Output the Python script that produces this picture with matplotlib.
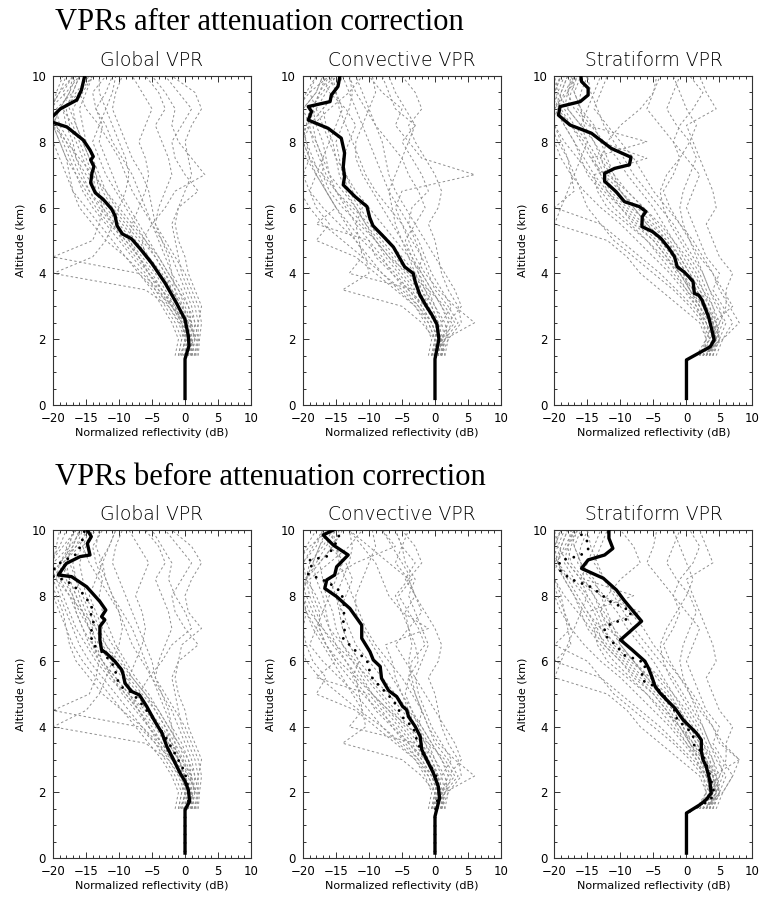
import numpy as np
import matplotlib
matplotlib.use('Agg')
import matplotlib.pyplot as plt
from matplotlib.ticker import MultipleLocator

# altitude levels (km) of the individual grey profiles
alt_levels = [1.5, 2.0, 2.5, 3.0, 3.5, 4.0, 4.5, 5.0, 5.5,
              6.0, 6.5, 7.0, 7.5, 8.0, 8.5, 9.0, 9.5, 10.0]

# ---- mean VPRs after attenuation correction (thick black, top row) ----
glob_alt = [0.2, 1.4, 1.8, 2.1, 2.6, 3.1, 3.7, 4.3, 4.75, 5.05, 5.2, 5.45, 5.75,
            5.95, 6.25, 6.45, 6.75, 7.05, 7.25, 7.45, 7.55, 7.75, 8.05, 8.45,
            8.62, 8.7, 8.78, 9.0, 9.27, 9.57, 10.0]
glob_val = [0.0, 0.0, 0.6, 0.5, 0.0, -1.3, -3.0, -5.0, -6.8, -8.1, -9.5, -10.3,
            -10.6, -11.1, -12.4, -13.6, -14.3, -14.1, -13.8, -14.3, -13.9, -14.4,
            -15.4, -17.9, -20.5, -21.0, -20.0, -18.9, -16.4, -15.7, -15.2]

conv_alt = [0.2, 1.4, 2.0, 2.45, 2.75, 3.0, 3.35, 3.75, 4.0, 4.2, 4.8, 5.12,
            5.45, 5.7, 6.03, 6.33, 6.69, 6.94, 7.24, 7.66, 8.11, 8.41, 8.66,
            8.92, 9.07, 9.22, 9.42, 9.68, 10.0]
conv_val = [0.0, 0.0, 0.6, 0.3, -0.5, -1.3, -2.3, -3.0, -3.3, -4.6, -6.3, -7.8,
            -9.4, -9.9, -10.3, -12.1, -13.9, -13.7, -13.9, -13.7, -14.2, -16.2,
            -19.2, -18.7, -19.2, -15.9, -15.7, -14.7, -14.4]

strat_alt = [0.2, 1.37, 1.77, 1.98, 2.28, 2.68, 3.19, 3.34, 3.39, 3.75, 3.9,
             4.05, 4.2, 4.5, 4.76, 5.07, 5.27, 5.42, 5.72, 5.88, 6.03, 6.18,
             6.48, 6.8, 7.04, 7.19, 7.3, 7.53, 7.8, 8.26, 8.51, 8.81, 9.07,
             9.22, 9.42, 9.63, 9.83, 10.0]
strat_val = [0.0, 0.0, 3.6, 4.2, 3.85, 3.35, 2.35, 1.85, 1.2, 1.0, 0.35, -0.4,
             -1.4, -1.8, -2.65, -3.9, -5.15, -6.75, -6.7, -6.15, -7.15, -9.4,
             -10.65, -12.4, -12.4, -10.9, -8.65, -8.4, -11.4, -14.4, -17.65,
             -19.4, -19.15, -16.1, -14.9, -14.9, -15.9, -16.0]

# ---- mean VPRs before attenuation correction (thick black, bottom row) ----
glob_b_alt = [0.15, 1.47, 1.73, 2.08, 2.34, 2.59, 3.0, 3.4, 3.81, 4.16, 4.62,
              4.97, 5.08, 5.33, 5.58, 5.74, 5.99, 6.24, 6.35, 6.65, 7.06, 7.26,
              7.36, 7.56, 7.82, 8.27, 8.58, 8.63, 8.98, 9.19, 9.24, 9.59, 9.8, 10.0]
glob_b_val = [0.0, 0.0, 0.7, 0.5, 0.0, -0.75, -1.75, -2.75, -3.5, -4.55, -5.8,
              -6.9, -8.1, -9.1, -9.35, -9.6, -10.6, -11.9, -12.65, -12.9, -12.9,
              -12.15, -12.65, -12.0, -12.9, -14.9, -17.2, -19.2, -18.0, -15.9,
              -14.4, -14.8, -14.2, -14.8]

conv_b_alt = [0.15, 1.27, 1.83, 2.18, 2.59, 3.0, 3.3, 3.71, 4.01, 4.31, 4.52,
              4.62, 4.92, 5.1, 5.48, 5.84, 6.04, 6.29, 6.7, 7.1, 7.61, 7.97,
              8.22, 8.48, 8.63, 8.88, 9.24, 9.54, 9.85, 10.02]
conv_b_val = [0.0, 0.0, 0.7, 0.5, -0.25, -1.25, -2.0, -2.25, -3.0, -4.0, -4.3,
              -4.9, -5.8, -7.0, -8.1, -8.3, -9.35, -9.85, -11.1, -11.1, -12.9,
              -14.9, -16.7, -16.4, -15.2, -14.9, -13.15, -15.4, -16.95, -15.2]

strat_b_alt = [0.15, 1.37, 1.62, 1.78, 1.98, 2.39, 2.79, 3.0, 3.25, 3.6, 3.81,
               4.01, 4.21, 4.57, 4.82, 5.03, 5.23, 5.53, 5.79, 6.0, 6.35, 6.65,
               7.22, 7.87, 8.17, 8.53, 8.83, 9.09, 9.24, 9.44, 9.75, 10.0]
strat_b_val = [0.0, 0.0, 2.0, 3.0, 3.75, 3.5, 3.0, 2.5, 2.25, 2.25, 1.5, 0.5,
               -0.5, -1.75, -3.0, -4.0, -4.75, -5.25, -5.75, -6.3, -8.25, -10.0,
               -6.8, -9.5, -10.6, -12.6, -15.9, -14.9, -12.4, -11.15, -11.75, -11.75]

# ---- individual profiles (grey dashed), one list per profile ----
glob_profiles = [
    [-1.0, -0.5, -1.5, -3.0, -4.5, -6.0, -8.0, -10.0, -12.0, -14.0, -15.5, -16.5, -17.5, -18.5, -19.5, -20.5, -19.0, -18.0],
    [1.5, 1.8, 0.5, -1.0, -2.5, -4.0, -6.0, -8.0, -10.0, -12.0, -13.5, -14.0, -15.0, -16.0, -17.0, -18.5, -16.0, -15.0],
    [0.5, 1.2, 1.5, 0.5, -1.0, -2.5, -4.0, -5.5, -7.0, -8.5, -10.0, -11.0, -12.0, -13.0, -12.5, -13.5, -14.0, -12.0],
    [2.0, 2.2, 2.5, 2.0, 1.0, 0.0, -1.5, -3.0, -4.5, -5.0, -5.5, -6.5, -8.0, -9.0, -10.0, -11.0, -10.5, -9.5],
    [-1.5, -1.0, -2.0, -3.5, -5.0, -7.0, -9.0, -11.0, -13.0, -15.0, -17.0, -18.0, -19.0, -20.0, -21.0, -20.0, -19.5, -18.5],
    [0.0, 0.5, 0.0, -1.5, -3.5, -5.5, -7.5, -9.5, -11.0, -12.5, -13.0, -13.5, -14.5, -15.5, -16.5, -17.0, -15.5, -14.0],
    [1.0, 1.5, 2.0, 2.5, 1.5, 0.5, 0.0, -1.0, -1.5, -1.0, 0.0, 1.0, 0.5, 0.0, 1.0, 2.5, 1.5, -2.0],
    [0.5, 0.8, -0.5, -2.0, -3.5, -5.5, -7.0, -8.5, -8.0, -7.0, -6.0, -5.5, -6.0, -7.0, -6.0, -5.0, -6.5, -8.0],
    [1.0, 1.0, 1.0, -0.5, -2.0, -4.0, -6.0, -6.5, -5.0, -3.0, -1.5, 3.0, 1.0, -1.0, -2.0, -1.5, -3.0, -5.0],
    [-0.5, 0.0, -1.0, -2.5, -6.0, -20.0, -14.0, -12.0, -11.0, -10.0, -9.0, -8.5, -9.0, -10.0, -11.0, -12.0, -13.0, -13.0],
    [0.0, 0.3, -0.5, -2.0, -4.0, -6.5, -9.0, -12.0, -14.0, -16.0, -17.0, -17.5, -18.0, -19.0, -20.0, -19.0, -17.5, -17.0],
    [1.5, 1.0, 0.0, -1.0, -2.0, -3.0, -4.5, -6.0, -7.5, -9.0, -10.5, -12.0, -13.0, -14.0, -13.0, -12.0, -11.0, -10.5],
    [-0.5, 0.0, -0.5, -1.5, -3.0, -4.5, -6.5, -8.5, -10.5, -12.5, -14.5, -16.0, -17.0, -18.0, -19.5, -20.5, -18.0, -16.0],
    [0.5, 1.0, 0.5, -0.5, -2.0, -3.5, -5.5, -7.5, -9.5, -11.5, -13.5, -15.0, -16.5, -17.5, -19.0, -19.5, -17.0, -16.0],
    [1.0, 1.5, 1.0, 0.0, -1.0, -2.5, -4.0, -6.0, -8.0, -10.0, -12.0, -14.0, -16.0, -18.0, -20.0, -20.5, -19.0, -17.0],
    [-1.0, -0.5, 0.0, -1.0, -2.5, -4.0, -5.5, -7.0, -9.0, -11.0, -12.5, -13.5, -14.5, -15.5, -16.5, -17.5, -18.5, -17.0],
    [0.0, 0.0, 1.0, 0.5, -0.5, -2.0, -3.0, -4.0, -5.0, -6.0, -7.0, -8.0, -9.5, -11.0, -12.0, -13.5, -12.0, -11.0],
    [1.8, 2.0, 1.5, 1.0, 0.0, -1.0, -2.0, -3.5, -5.0, -6.5, -8.0, -9.0, -10.0, -11.5, -13.0, -15.0, -16.0, -14.0],
    [-0.8, 0.2, -0.2, -1.8, -3.5, -5.0, -7.0, -9.0, -11.5, -13.5, -15.0, -16.5, -18.0, -19.0, -20.0, -19.0, -17.5, -16.5],
    [0.3, 0.8, 0.0, -1.0, -1.5, -2.0, -2.5, -3.5, -4.5, -4.0, -3.0, -2.0, -2.5, -3.5, -4.5, -3.0, -4.0, -6.0],
    [1.2, 0.5, -0.8, -2.5, -4.0, -5.5, -7.0, -9.0, -11.0, -13.0, -14.5, -15.5, -16.5, -17.0, -18.0, -18.5, -16.5, -14.5],
    [-0.3, 1.5, 0.8, -0.3, -1.5, -3.0, -4.5, -6.5, -8.5, -10.5, -12.0, -13.0, -14.0, -15.0, -15.5, -16.0, -15.0, -14.0],
    [0.8, 1.0, 0.0, -2.0, -4.5, -7.0, -20.0, -14.0, -13.0, -12.5, -13.5, -14.5, -15.5, -16.5, -17.5, -18.0, -17.0, -16.0],
    [1.5, 2.0, 2.0, 1.5, 0.5, -0.5, -1.0, -1.5, -2.0, -1.0, 2.0, 0.0, -1.5, -2.0, -0.5, 1.0, -1.0, -3.0],
]

conv_profiles = [
    [0.5, 1.0, 0.0, -1.5, -3.0, -5.0, -7.0, -9.0, -11.0, -13.0, -15.0, -16.5, -17.5, -18.5, -19.0, -20.0, -18.0, -17.0],
    [1.0, 1.5, 6.0, 3.0, 0.5, -1.5, -3.0, -4.0, -5.0, -6.0, -5.0, 6.0, -2.0, -4.0, -6.0, -5.0, -8.0, -10.0],
    [-0.5, 0.0, -2.0, -5.0, -14.0, -10.0, -10.5, -12.0, -13.5, -15.0, -16.5, -18.0, -19.0, -19.5, -20.0, -21.0, -19.0, -16.0],
    [0.0, 0.5, 0.5, -1.0, -2.0, -3.0, -4.0, -5.0, -6.0, -6.5, -7.0, -8.0, -9.0, -10.0, -11.0, -12.0, -13.0, -14.0],
    [1.0, 2.0, 4.0, 3.5, 2.0, 1.0, 0.5, 0.0, -1.0, 0.5, 1.0, 0.0, -1.5, -3.0, -4.0, -2.0, -3.0, -5.0],
    [-1.0, -0.5, -1.5, -3.0, -6.0, -9.0, -12.0, -18.0, -16.0, -18.0, -19.0, -20.0, -20.5, -20.0, -19.5, -18.5, -17.5, -16.5],
    [0.5, 0.5, -0.5, -2.0, -3.5, -5.5, -7.5, -9.0, -10.5, -12.0, -13.5, -14.5, -15.0, -15.5, -16.5, -17.0, -15.0, -14.0],
    [1.5, 1.0, 2.0, 1.0, -0.5, -2.0, -3.5, -4.5, -3.0, -1.5, -2.5, -4.0, -5.0, -7.0, -9.0, -10.0, -11.0, -12.0],
    [0.0, 1.0, 3.0, 1.5, -1.0, -4.0, -7.0, -9.0, -11.5, -14.0, -16.0, -17.0, -17.0, -18.0, -18.5, -16.0, -13.0, -11.0],
    [0.5, 0.0, -1.0, -2.5, -5.0, -8.0, -11.0, -14.0, -17.0, -19.0, -20.5, -20.0, -19.0, -20.0, -19.0, -17.0, -15.0, -14.5],
    [1.0, 1.5, 1.0, 0.0, -1.0, -2.5, -2.0, -3.0, -4.0, -3.5, -1.0, -2.0, -3.5, -5.0, -3.0, -6.0, -7.0, -8.0],
    [-0.5, 0.5, 0.5, -1.5, -4.0, -6.5, -9.0, -10.0, -12.0, -11.0, -12.5, -13.5, -14.0, -13.0, -12.0, -13.5, -16.0, -17.0],
    [0.0, 0.5, -0.5, -2.0, -4.0, -6.0, -8.5, -11.0, -13.0, -15.0, -16.5, -17.5, -18.5, -19.5, -20.5, -20.0, -18.0, -17.0],
    [1.0, 1.5, 2.5, 1.0, -0.5, -2.0, -4.0, -6.0, -8.0, -10.0, -12.0, -13.5, -15.0, -16.0, -17.0, -18.0, -19.0, -18.0],
    [-0.5, 0.5, 0.0, -1.0, -2.5, -4.5, -6.5, -8.5, -10.5, -12.0, -14.0, -16.0, -17.0, -18.0, -19.5, -19.0, -17.0, -15.5],
    [0.5, 1.0, 2.0, 4.0, 3.0, 1.5, 0.0, -1.5, -3.0, -4.5, -6.0, -7.0, -7.5, -8.0, -9.0, -10.5, -12.0, -13.0],
    [0.0, 0.0, -1.0, -3.0, -5.5, -8.0, -10.0, -12.0, -14.5, -17.0, -19.0, -18.0, -17.0, -16.0, -15.0, -14.0, -15.0, -16.0],
    [1.5, 2.0, 1.5, 0.0, -1.5, -3.0, -5.0, -7.0, -9.5, -11.5, -13.0, -14.0, -14.5, -15.0, -14.0, -13.0, -12.5, -13.0],
    [0.5, 0.5, 1.0, 2.5, 1.0, -0.5, -1.5, -2.5, -4.0, -5.5, -7.0, -6.0, -5.0, -4.0, -3.0, -4.5, -6.0, -7.0],
    [-0.5, 0.0, 0.5, -0.5, -2.0, -4.0, -6.0, -8.0, -10.0, -12.5, -15.0, -17.0, -19.0, -20.0, -21.0, -20.5, -19.5, -18.0],
    [1.0, 1.0, 0.0, -1.5, -3.0, -13.0, -11.0, -11.5, -12.0, -13.5, -15.0, -16.0, -16.5, -17.0, -18.0, -18.5, -17.5, -16.0],
    [0.0, 1.5, 3.5, 2.0, 0.0, -1.0, -2.0, -3.5, -5.0, -7.0, -9.0, -10.5, -11.5, -12.5, -13.5, -14.5, -15.0, -15.5],
    [0.8, 1.2, 0.5, -0.5, -1.5, -2.5, -3.5, -5.0, -6.5, -8.0, -9.5, -11.0, -12.0, -12.0, -11.0, -10.0, -9.0, -9.5],
    [-0.2, 0.3, -0.5, -2.5, -4.5, -6.5, -8.0, -10.0, -18.0, -15.0, -16.5, -18.0, -19.5, -20.5, -19.5, -18.0, -16.5, -15.0],
]

strat_profiles = [
    [3.0, 4.5, 4.0, 3.0, 1.5, 0.0, -1.5, -3.0, -5.0, -7.5, -10.0, -12.5, -14.5, -16.0, -17.5, -19.0, -20.0, -19.0],
    [2.5, 5.5, 8.0, 6.5, 5.0, 4.0, 2.5, 1.0, -1.0, -3.0, -5.0, -6.5, -8.0, -10.0, -12.0, -14.0, -13.0, -12.0],
    [3.5, 4.0, 3.5, 2.0, 0.5, -1.0, -3.0, -5.0, -8.0, -10.0, -12.0, -13.0, -14.5, -6.0, -15.0, -17.0, -18.0, -17.5],
    [2.0, 3.5, 5.0, 6.0, 6.0, 7.0, 5.0, 4.0, 3.0, 4.5, 4.0, 3.0, 2.0, 1.0, 0.0, 4.5, 3.0, 2.0],
    [3.0, 4.0, 3.0, 1.0, -1.5, -4.0, -7.0, -10.0, -13.0, -20.0, -17.0, -17.5, -18.0, -19.0, -20.0, -20.5, -20.0, -19.0],
    [4.0, 5.0, 4.5, 4.0, 3.0, 2.0, 0.5, -1.0, -2.5, -3.5, -4.0, -3.0, -1.0, 0.5, 1.5, 0.0, -1.0, -2.0],
    [2.5, 3.5, 2.5, 0.5, -2.0, -5.0, -8.0, -11.0, -13.0, -15.0, -16.0, -17.0, -18.0, -19.5, -20.5, -20.0, -18.0, -17.0],
    [3.5, 4.5, 5.5, 5.0, 3.5, 2.5, 1.0, -0.5, -2.0, -4.0, -6.0, -8.0, -9.5, -11.0, -12.5, -13.5, -14.5, -15.0],
    [3.0, 4.0, 3.5, 2.5, 1.0, -0.5, -2.0, -4.0, -6.0, -8.0, -10.0, -11.5, -13.0, -12.0, -10.0, -7.0, -5.0, -4.0],
    [2.0, 3.0, 2.0, -1.0, -4.0, -7.0, -9.0, -12.0, -20.0, -19.0, -18.0, -17.0, -16.0, -15.0, -16.0, -15.0, -14.0, -13.0],
    [4.5, 5.5, 7.0, 5.5, 4.0, 5.0, 3.0, 2.0, 1.0, 0.0, 1.0, 2.0, 0.0, -2.0, -1.0, 1.0, 2.5, 0.5],
    [3.0, 4.5, 4.0, 3.5, 2.0, 0.5, -1.0, -2.5, -4.5, -6.5, -9.0, -11.0, -12.5, -14.0, -15.5, -16.0, -17.0, -16.0],
    [3.5, 4.5, 4.0, 2.5, 0.5, -1.0, -2.5, -4.5, -7.0, -9.5, -12.0, -14.0, -15.5, -17.0, -18.5, -20.0, -19.0, -18.0],
    [2.0, 3.5, 3.0, 2.0, 0.5, -0.5, -2.0, -4.0, -6.5, -9.0, -11.5, -13.0, -14.0, -15.5, -17.5, -19.5, -20.5, -19.0],
    [4.0, 5.0, 4.0, 3.0, 2.0, 0.5, -1.0, -3.0, -5.5, -8.5, -11.0, -12.5, -13.5, -15.0, -17.0, -18.5, -18.0, -16.5],
    [3.0, 4.0, 4.5, 3.5, 2.5, 1.5, 0.0, -2.0, -4.0, -6.5, -9.0, -12.0, -13.0, -14.0, -16.0, -18.0, -19.5, -20.0],
    [1.5, 3.0, 2.5, 1.5, 0.0, -1.5, -3.0, -5.0, -7.5, -10.0, -12.5, -14.5, -16.5, -18.5, -20.0, -20.5, -19.5, -18.5],
    [3.5, 5.0, 6.0, 4.5, 3.5, 2.5, 1.5, 0.5, -0.5, -1.0, -0.5, 0.5, 1.5, 0.5, -1.5, -3.0, -2.0, -1.0],
    [2.5, 4.0, 3.5, 3.0, 1.5, 0.0, -1.5, -3.5, -6.0, -8.0, -10.0, -11.0, -12.0, -13.0, -14.0, -16.0, -17.0, -17.5],
    [3.0, 4.5, 5.0, 4.0, 2.5, 1.0, -0.5, -2.0, -3.5, -5.0, -7.0, -9.0, -10.5, -12.5, -14.5, -16.5, -16.0, -15.0],
    [4.0, 4.5, 3.5, 2.0, 0.0, -2.0, -4.0, -6.0, -8.5, -11.0, -13.0, -15.0, -16.0, -17.0, -18.5, -19.5, -19.0, -18.0],
    [2.5, 3.0, 4.0, 7.0, 5.5, 4.0, 2.0, 0.5, -1.0, -2.5, -3.5, -2.0, -1.0, -2.0, -4.0, -6.0, -5.0, -4.5],
    [3.0, 5.0, 4.5, 3.0, 1.0, -1.0, -3.5, -6.0, -9.0, -12.0, -13.5, -14.0, -6.0, -13.0, -16.0, -18.0, -17.5, -16.5],
    [3.5, 4.0, 3.0, 1.5, -0.5, -2.5, -5.0, -7.5, -10.0, -13.0, -15.5, -17.5, -19.0, -20.0, -20.5, -19.5, -18.5, -17.0],
]

glob_b_profiles = [
    [-1.0, -0.5, -1.5, -3.0, -4.5, -6.5, -8.5, -10.5, -12.5, -14.5, -16.0, -17.0, -18.0, -19.0, -20.0, -20.5, -19.0, -18.0],
    [1.5, 1.8, 0.5, -1.0, -2.5, -4.0, -6.0, -8.5, -10.5, -12.5, -14.0, -14.5, -15.5, -16.5, -17.5, -18.5, -16.0, -15.0],
    [0.5, 1.2, 1.5, 0.5, -1.0, -2.5, -4.0, -5.5, -7.5, -9.0, -10.5, -11.5, -12.5, -13.0, -12.5, -13.5, -14.0, -12.5],
    [2.0, 2.2, 2.5, 2.0, 1.0, 0.0, -1.5, -3.0, -4.5, -5.0, -6.0, -7.0, -8.0, -9.0, -10.0, -11.0, -10.5, -9.5],
    [-1.5, -1.0, -2.0, -3.5, -5.5, -7.5, -9.5, -11.5, -13.5, -15.5, -17.0, -18.0, -19.0, -20.0, -21.0, -20.0, -19.5, -19.0],
    [0.0, 0.5, 0.0, -1.5, -3.5, -5.5, -7.5, -9.5, -11.0, -12.5, -13.5, -14.0, -15.0, -16.0, -16.5, -17.0, -15.5, -14.5],
    [1.0, 1.5, 2.0, 2.5, 1.5, 0.5, 0.0, -1.0, -1.5, -1.0, -0.5, 2.5, 0.5, 0.0, 1.0, 2.5, 1.0, -2.0],
    [0.5, 0.8, -0.5, -2.0, -3.5, -5.5, -7.0, -8.5, -8.5, -7.5, -6.5, -6.0, -6.5, -7.5, -6.5, -5.5, -7.0, -8.5],
    [1.0, 1.0, 1.0, -0.5, -2.0, -4.0, -6.0, -7.0, -5.5, -3.5, -2.0, 1.0, 0.0, -1.5, -2.5, -2.0, -3.5, -5.0],
    [-0.5, 0.0, -1.0, -2.5, -6.0, -20.0, -15.0, -13.0, -12.0, -11.0, -10.0, -9.5, -10.0, -11.0, -12.0, -12.5, -13.5, -13.0],
    [0.0, 0.3, -0.5, -2.0, -4.0, -6.5, -9.5, -12.5, -14.5, -16.5, -17.5, -18.0, -18.5, -19.5, -20.5, -19.0, -17.5, -17.0],
    [1.5, 1.0, 0.0, -1.0, -2.0, -3.0, -4.5, -6.0, -8.0, -9.5, -11.0, -12.5, -13.5, -14.5, -13.5, -12.5, -11.5, -10.5],
    [-0.5, 0.0, -0.5, -1.5, -3.0, -4.5, -6.5, -8.5, -10.5, -12.5, -14.0, -15.5, -16.5, -17.5, -19.0, -20.0, -17.5, -15.5],
    [0.5, 1.0, 0.5, -0.5, -2.0, -3.5, -5.5, -7.5, -9.5, -11.5, -13.0, -14.5, -16.0, -17.0, -18.5, -19.0, -16.5, -15.5],
    [1.0, 1.5, 1.0, 0.0, -1.0, -2.5, -4.0, -6.0, -8.0, -10.0, -12.0, -13.5, -15.5, -17.5, -19.5, -20.5, -18.5, -16.5],
    [-1.0, -0.5, 0.0, -1.0, -2.5, -4.0, -5.5, -7.0, -9.0, -11.0, -12.5, -13.5, -14.5, -15.5, -16.5, -17.5, -18.0, -16.5],
    [0.0, 0.0, 1.0, 0.5, -0.5, -2.0, -3.0, -4.0, -5.0, -6.0, -7.0, -8.0, -9.5, -11.0, -12.0, -13.0, -11.5, -10.5],
    [1.8, 2.0, 1.5, 1.0, 0.0, -1.0, -2.0, -3.5, -5.0, -6.5, -8.0, -9.0, -10.0, -11.5, -13.0, -14.5, -15.5, -13.5],
    [-0.8, 0.2, -0.2, -1.8, -3.5, -5.0, -7.0, -9.0, -11.5, -13.5, -15.0, -16.5, -17.5, -18.5, -19.5, -19.0, -17.0, -16.0],
    [0.3, 0.8, 0.0, -1.0, -1.5, -2.0, -2.5, -3.5, -4.5, -4.0, -3.0, -2.0, -2.5, -3.5, -4.5, -3.0, -4.0, -6.0],
    [1.2, 0.5, -0.8, -2.5, -4.0, -5.5, -7.0, -9.0, -11.0, -13.0, -14.5, -15.5, -16.5, -17.0, -18.0, -18.5, -16.5, -14.5],
    [-0.3, 1.5, 0.8, -0.3, -1.5, -3.0, -4.5, -6.5, -8.5, -10.5, -12.0, -13.0, -14.0, -15.0, -15.5, -16.0, -15.0, -14.0],
    [0.8, 1.0, 0.0, -2.0, -4.5, -7.0, -20.0, -14.5, -13.5, -13.0, -14.0, -14.5, -15.5, -16.5, -17.5, -18.0, -17.0, -16.0],
    [1.5, 2.0, 2.0, 1.5, 0.5, -0.5, -1.0, -1.5, -2.0, -1.0, 2.0, 0.0, -1.5, -2.0, -0.5, 1.0, -1.0, -3.0],
]

conv_b_profiles = [
    [0.5, 1.0, 0.0, -1.5, -3.0, -5.0, -7.0, -9.5, -11.5, -13.5, -15.5, -17.0, -18.0, -19.0, -19.5, -20.0, -18.5, -17.0],
    [1.0, 1.5, 6.0, 3.0, 0.5, -1.0, -2.0, -3.0, -3.5, -4.0, -3.5, -4.0, -2.0, -3.0, -4.5, -3.0, -5.0, -6.0],
    [-0.5, 0.0, -2.0, -5.0, -14.0, -10.5, -11.0, -12.5, -14.0, -15.5, -17.0, -18.5, -19.5, -20.0, -20.5, -21.0, -19.0, -16.0],
    [0.0, 0.5, 0.5, -1.0, -2.0, -3.0, -4.0, -5.0, -6.0, -6.5, -7.5, -1.0, -5.0, -7.0, -8.0, -9.0, -11.0, -13.0],
    [1.0, 2.0, 4.0, 3.5, 2.0, 1.0, 0.5, 0.0, -1.0, 0.5, 1.0, 0.0, -1.5, -3.0, -4.0, -2.0, -3.0, -5.0],
    [-1.0, -0.5, -1.5, -3.0, -6.0, -9.0, -12.0, -18.0, -16.5, -18.5, -19.5, -20.0, -20.5, -20.0, -19.5, -18.5, -17.5, -16.5],
    [0.5, 0.5, -0.5, -2.0, -3.5, -5.5, -7.5, -9.5, -11.0, -12.5, -14.0, -15.0, -15.5, -16.5, -17.0, -17.5, -15.5, -14.0],
    [1.5, 1.0, 2.0, 1.0, -0.5, -2.0, -3.5, -4.5, -4.0, -2.5, -3.0, -4.0, -4.5, -3.0, -4.0, -6.0, -5.0, -6.0],
    [0.0, 1.0, 3.0, 1.5, -1.0, -4.0, -7.0, -9.5, -12.0, -14.5, -16.5, -17.5, -17.5, -18.5, -19.0, -16.0, -13.0, -11.0],
    [0.5, 0.0, -1.0, -2.5, -5.0, -8.0, -11.5, -14.5, -17.5, -19.5, -20.5, -20.0, -19.5, -20.0, -19.5, -17.5, -15.5, -14.5],
    [1.0, 1.5, 1.0, 0.0, -1.0, -2.5, -2.0, -3.0, -4.0, -3.5, -1.5, -2.5, -4.0, -5.5, -3.5, -5.0, -6.5, -8.0],
    [-0.5, 0.5, 0.5, -1.5, -4.0, -6.5, -9.0, -10.5, -12.5, -11.5, -13.0, -14.0, -14.5, -13.5, -12.5, -13.5, -16.0, -17.0],
    [0.0, 0.5, -0.5, -2.0, -4.0, -6.0, -8.5, -11.0, -13.0, -15.0, -16.5, -17.5, -18.5, -19.5, -20.5, -20.0, -18.0, -17.0],
    [1.0, 1.5, 2.5, 1.0, -0.5, -2.0, -4.0, -6.0, -8.0, -10.0, -12.0, -13.0, -14.0, -15.0, -16.0, -12.0, -6.0, -8.0],
    [-0.5, 0.5, 0.0, -1.0, -2.5, -4.5, -6.5, -8.5, -10.5, -12.0, -14.0, -16.0, -17.0, -18.0, -19.5, -19.0, -17.0, -15.5],
    [0.5, 1.0, 2.0, 4.0, 3.0, 1.5, 0.0, -1.5, -3.0, -4.5, -6.0, -4.0, -5.0, -6.0, -4.0, -7.0, -10.0, -13.0],
    [0.0, 0.0, -1.0, -3.0, -5.5, -8.0, -10.0, -12.0, -14.5, -17.0, -19.0, -18.0, -17.0, -16.0, -15.0, -14.0, -15.0, -16.0],
    [1.5, 2.0, 1.5, 0.0, -1.5, -3.0, -5.0, -7.0, -9.5, -11.5, -13.0, -14.0, -14.5, -15.0, -14.0, -13.0, -12.5, -13.0],
    [0.5, 0.5, 1.0, 2.5, 1.0, -0.5, -1.5, -2.5, -3.0, -2.0, -1.0, -2.0, -3.0, -4.0, -3.0, -4.5, -5.0, -4.0],
    [-0.5, 0.0, 0.5, -0.5, -2.0, -4.0, -6.0, -8.0, -10.0, -12.5, -15.0, -17.0, -19.0, -20.0, -21.0, -20.5, -19.5, -18.0],
    [1.0, 1.0, 0.0, -1.5, -3.0, -13.0, -11.0, -11.5, -12.0, -13.5, -15.0, -16.0, -16.5, -17.0, -18.0, -18.5, -17.5, -16.0],
    [0.0, 1.5, 3.5, 2.0, 0.0, -1.0, -2.0, -3.5, -5.0, -7.0, -9.0, -10.5, -11.5, -12.5, -13.5, -14.5, -15.0, -15.5],
    [0.8, 1.2, 0.5, -0.5, -1.5, -2.5, -3.5, -5.0, -6.5, -8.0, -9.5, -11.0, -12.0, -12.0, -11.0, -10.0, -9.0, -9.5],
    [-0.2, 0.3, -0.5, -2.5, -4.5, -6.5, -8.0, -10.0, -18.0, -15.0, -16.5, -18.0, -19.5, -20.5, -19.5, -18.0, -16.5, -15.0],
]

strat_b_profiles = [
    [3.0, 4.5, 4.0, 3.0, 1.5, 0.0, -1.5, -3.5, -5.5, -8.0, -10.5, -13.0, -15.0, -16.5, -18.0, -19.5, -20.0, -19.0],
    [2.5, 5.5, 7.0, 8.0, 5.0, 4.0, 2.5, 1.0, -1.0, -3.0, -5.0, -6.5, -8.5, -10.5, -12.5, -14.0, -13.0, -12.0],
    [3.5, 4.0, 3.5, 2.0, 0.5, -1.0, -3.0, -5.0, -8.0, -10.0, -12.5, -13.5, -15.0, -8.0, -15.5, -17.5, -18.0, -17.5],
    [2.0, 3.5, 5.0, 6.0, 6.0, 7.0, 5.0, 4.0, 3.0, 4.5, 4.0, 3.0, 2.0, 1.0, 0.0, 4.0, 3.0, 2.0],
    [3.0, 4.0, 3.0, 1.0, -1.5, -4.0, -7.0, -10.0, -13.0, -20.0, -17.5, -18.0, -18.5, -19.0, -20.0, -20.5, -20.0, -19.0],
    [4.0, 5.0, 4.5, 4.0, 3.0, 2.0, 0.5, -1.0, -2.5, -3.5, -4.0, -3.0, -1.5, 0.0, 1.0, 0.0, -1.0, -2.0],
    [2.5, 3.5, 2.5, 0.5, -2.0, -5.0, -8.0, -11.0, -13.0, -15.0, -20.0, -17.5, -18.5, -19.5, -20.5, -20.0, -18.0, -17.0],
    [3.5, 4.5, 5.5, 5.0, 3.5, 2.5, 1.0, -0.5, -2.0, -4.0, -6.0, -8.0, -9.5, -11.0, -12.5, -13.5, -14.5, -15.0],
    [3.0, 4.0, 3.5, 2.5, 1.0, -0.5, -2.0, -4.0, -6.0, -8.0, -10.0, -11.5, -13.0, -12.0, -10.0, -7.0, -8.0, -10.0],
    [2.0, 3.0, 2.0, -1.0, -4.0, -7.0, -9.0, -12.0, -20.0, -19.0, -18.0, -17.0, -16.0, -15.0, -16.0, -15.0, -14.0, -13.0],
    [4.5, 5.5, 7.0, 5.5, 4.0, 5.0, 3.0, 2.0, 1.0, 0.0, 1.0, 2.0, 0.0, -2.0, -1.0, 1.0, 2.0, 0.5],
    [3.0, 4.5, 4.0, 3.5, 2.0, 0.5, -1.0, -2.5, -4.5, -6.5, -9.0, -11.0, -12.5, -14.0, -15.5, -16.0, -17.0, -16.0],
    [3.5, 4.5, 4.0, 2.5, 0.5, -1.0, -2.5, -4.5, -7.0, -9.5, -12.0, -14.0, -15.5, -17.0, -18.5, -20.0, -19.0, -18.0],
    [2.0, 3.5, 3.0, 2.0, 0.5, -0.5, -2.0, -4.0, -6.5, -9.0, -11.5, -13.0, -14.0, -15.5, -17.5, -19.5, -20.5, -19.0],
    [4.0, 5.0, 4.0, 3.0, 2.0, 0.5, -1.0, -3.0, -5.5, -8.5, -11.0, -12.5, -13.5, -15.0, -17.0, -18.5, -18.0, -16.5],
    [3.0, 4.0, 4.5, 3.5, 2.5, 1.5, 0.0, -2.0, -4.0, -6.5, -9.0, -12.0, -13.0, -14.0, -16.0, -18.0, -19.5, -20.0],
    [1.5, 3.0, 2.5, 1.5, 0.0, -1.5, -3.0, -5.0, -7.5, -10.0, -12.5, -14.5, -16.5, -18.5, -20.0, -20.5, -19.5, -18.5],
    [3.5, 5.0, 6.0, 4.5, 3.5, 2.5, 1.5, 0.5, -0.5, -1.0, -0.5, 0.5, 1.5, 0.5, -1.5, -3.0, -2.0, -1.0],
    [2.5, 4.0, 3.5, 3.0, 1.5, 0.0, -1.5, -3.5, -6.0, -8.0, -10.0, -11.0, -12.0, -13.0, -14.0, -16.0, -17.0, -17.5],
    [3.0, 4.5, 5.0, 4.0, 2.5, 1.0, -0.5, -2.0, -3.5, -5.0, -7.0, -9.0, -10.5, -12.5, -14.5, -16.5, -16.0, -15.0],
    [4.0, 4.5, 3.5, 2.0, 0.0, -2.0, -4.0, -6.0, -8.5, -11.0, -13.0, -15.0, -16.0, -17.0, -18.5, -19.5, -19.0, -18.0],
    [2.5, 3.0, 4.0, 8.0, 5.5, 4.0, 2.0, 0.5, -1.0, -2.5, -3.5, -2.0, -1.0, -2.0, -4.0, -6.0, -5.0, -4.5],
    [3.0, 5.0, 4.5, 3.0, 1.0, -1.0, -3.5, -6.0, -9.0, -12.0, -13.5, -14.0, -7.0, -13.0, -16.0, -18.0, -17.5, -16.5],
    [3.5, 4.0, 3.0, 1.5, -0.5, -2.5, -5.0, -7.5, -10.0, -13.0, -15.5, -17.5, -19.0, -20.0, -20.5, -19.5, -18.5, -17.0],
]

panel_titles = ['Global VPR', 'Convective VPR', 'Stratiform VPR']
row_titles = ['VPRs after attenuation correction',
              'VPRs before attenuation correction']


def draw_panel(ax, title, profiles, m_alt, m_val, ref_alt=None, ref_val=None):
    for prof in profiles:
        ax.plot(prof, alt_levels, color='#8e8e8e', lw=0.7,
                linestyle=(0, (2.5, 2.5)))
    if ref_alt is not None:
        # mean after correction, shown dotted for comparison
        ax.plot(ref_val, ref_alt, color='black', lw=2.1,
                linestyle=(0, (0.01, 2.9)), dash_capstyle='round', zorder=3)
    ax.plot(m_val, m_alt, color='black', lw=2.4, zorder=4)

    ax.set_xlim(-20, 10)
    ax.set_ylim(0, 10)
    ax.xaxis.set_major_locator(MultipleLocator(5))
    ax.xaxis.set_minor_locator(MultipleLocator(1))
    ax.yaxis.set_major_locator(MultipleLocator(2))
    ax.yaxis.set_minor_locator(MultipleLocator(0.5))
    ax.tick_params(which='both', direction='in', top=True, right=True,
                   labelsize=8.5, pad=5, color='#333333')
    ax.tick_params(which='major', length=4.5, width=0.7)
    ax.tick_params(which='minor', length=2.2, width=0.7)
    for sp in ax.spines.values():
        sp.set_linewidth(0.8)
        sp.set_color('#333333')
    ax.set_xlabel('Normalized reflectivity (dB)', fontsize=8, labelpad=2)
    ax.set_ylabel('Altitude (km)', fontsize=8, labelpad=4)
    ax.set_title(title, fontsize=13.5, pad=7, color='black',
                 fontweight='light')


fig = plt.figure(figsize=(7.63, 8.99), dpi=100)

lefts = [0.0695, 0.3971, 0.7267]
width = 0.2595
top_row = [(glob_profiles, glob_alt, glob_val),
           (conv_profiles, conv_alt, conv_val),
           (strat_profiles, strat_alt, strat_val)]
bottom_row = [(glob_b_profiles, glob_b_alt, glob_b_val),
              (conv_b_profiles, conv_b_alt, conv_b_val),
              (strat_b_profiles, strat_b_alt, strat_b_val)]

for i in range(3):
    ax = fig.add_axes([lefts[i], 0.5495, width, 0.366])
    profs, a, v = top_row[i]
    draw_panel(ax, panel_titles[i], profs, a, v)

for i in range(3):
    ax = fig.add_axes([lefts[i], 0.0456, width, 0.3648])
    profs, a, v = bottom_row[i]
    ref_a, ref_v = top_row[i][1], top_row[i][2]
    draw_panel(ax, panel_titles[i], profs, a, v, ref_a, ref_v)

fig.text(0.072, 0.9666, row_titles[0], fontsize=22, family='Liberation Serif',
         va='baseline', ha='left')
fig.text(0.072, 0.4605, row_titles[1], fontsize=22, family='Liberation Serif',
         va='baseline', ha='left')

fig.savefig('out.png', dpi=100)
